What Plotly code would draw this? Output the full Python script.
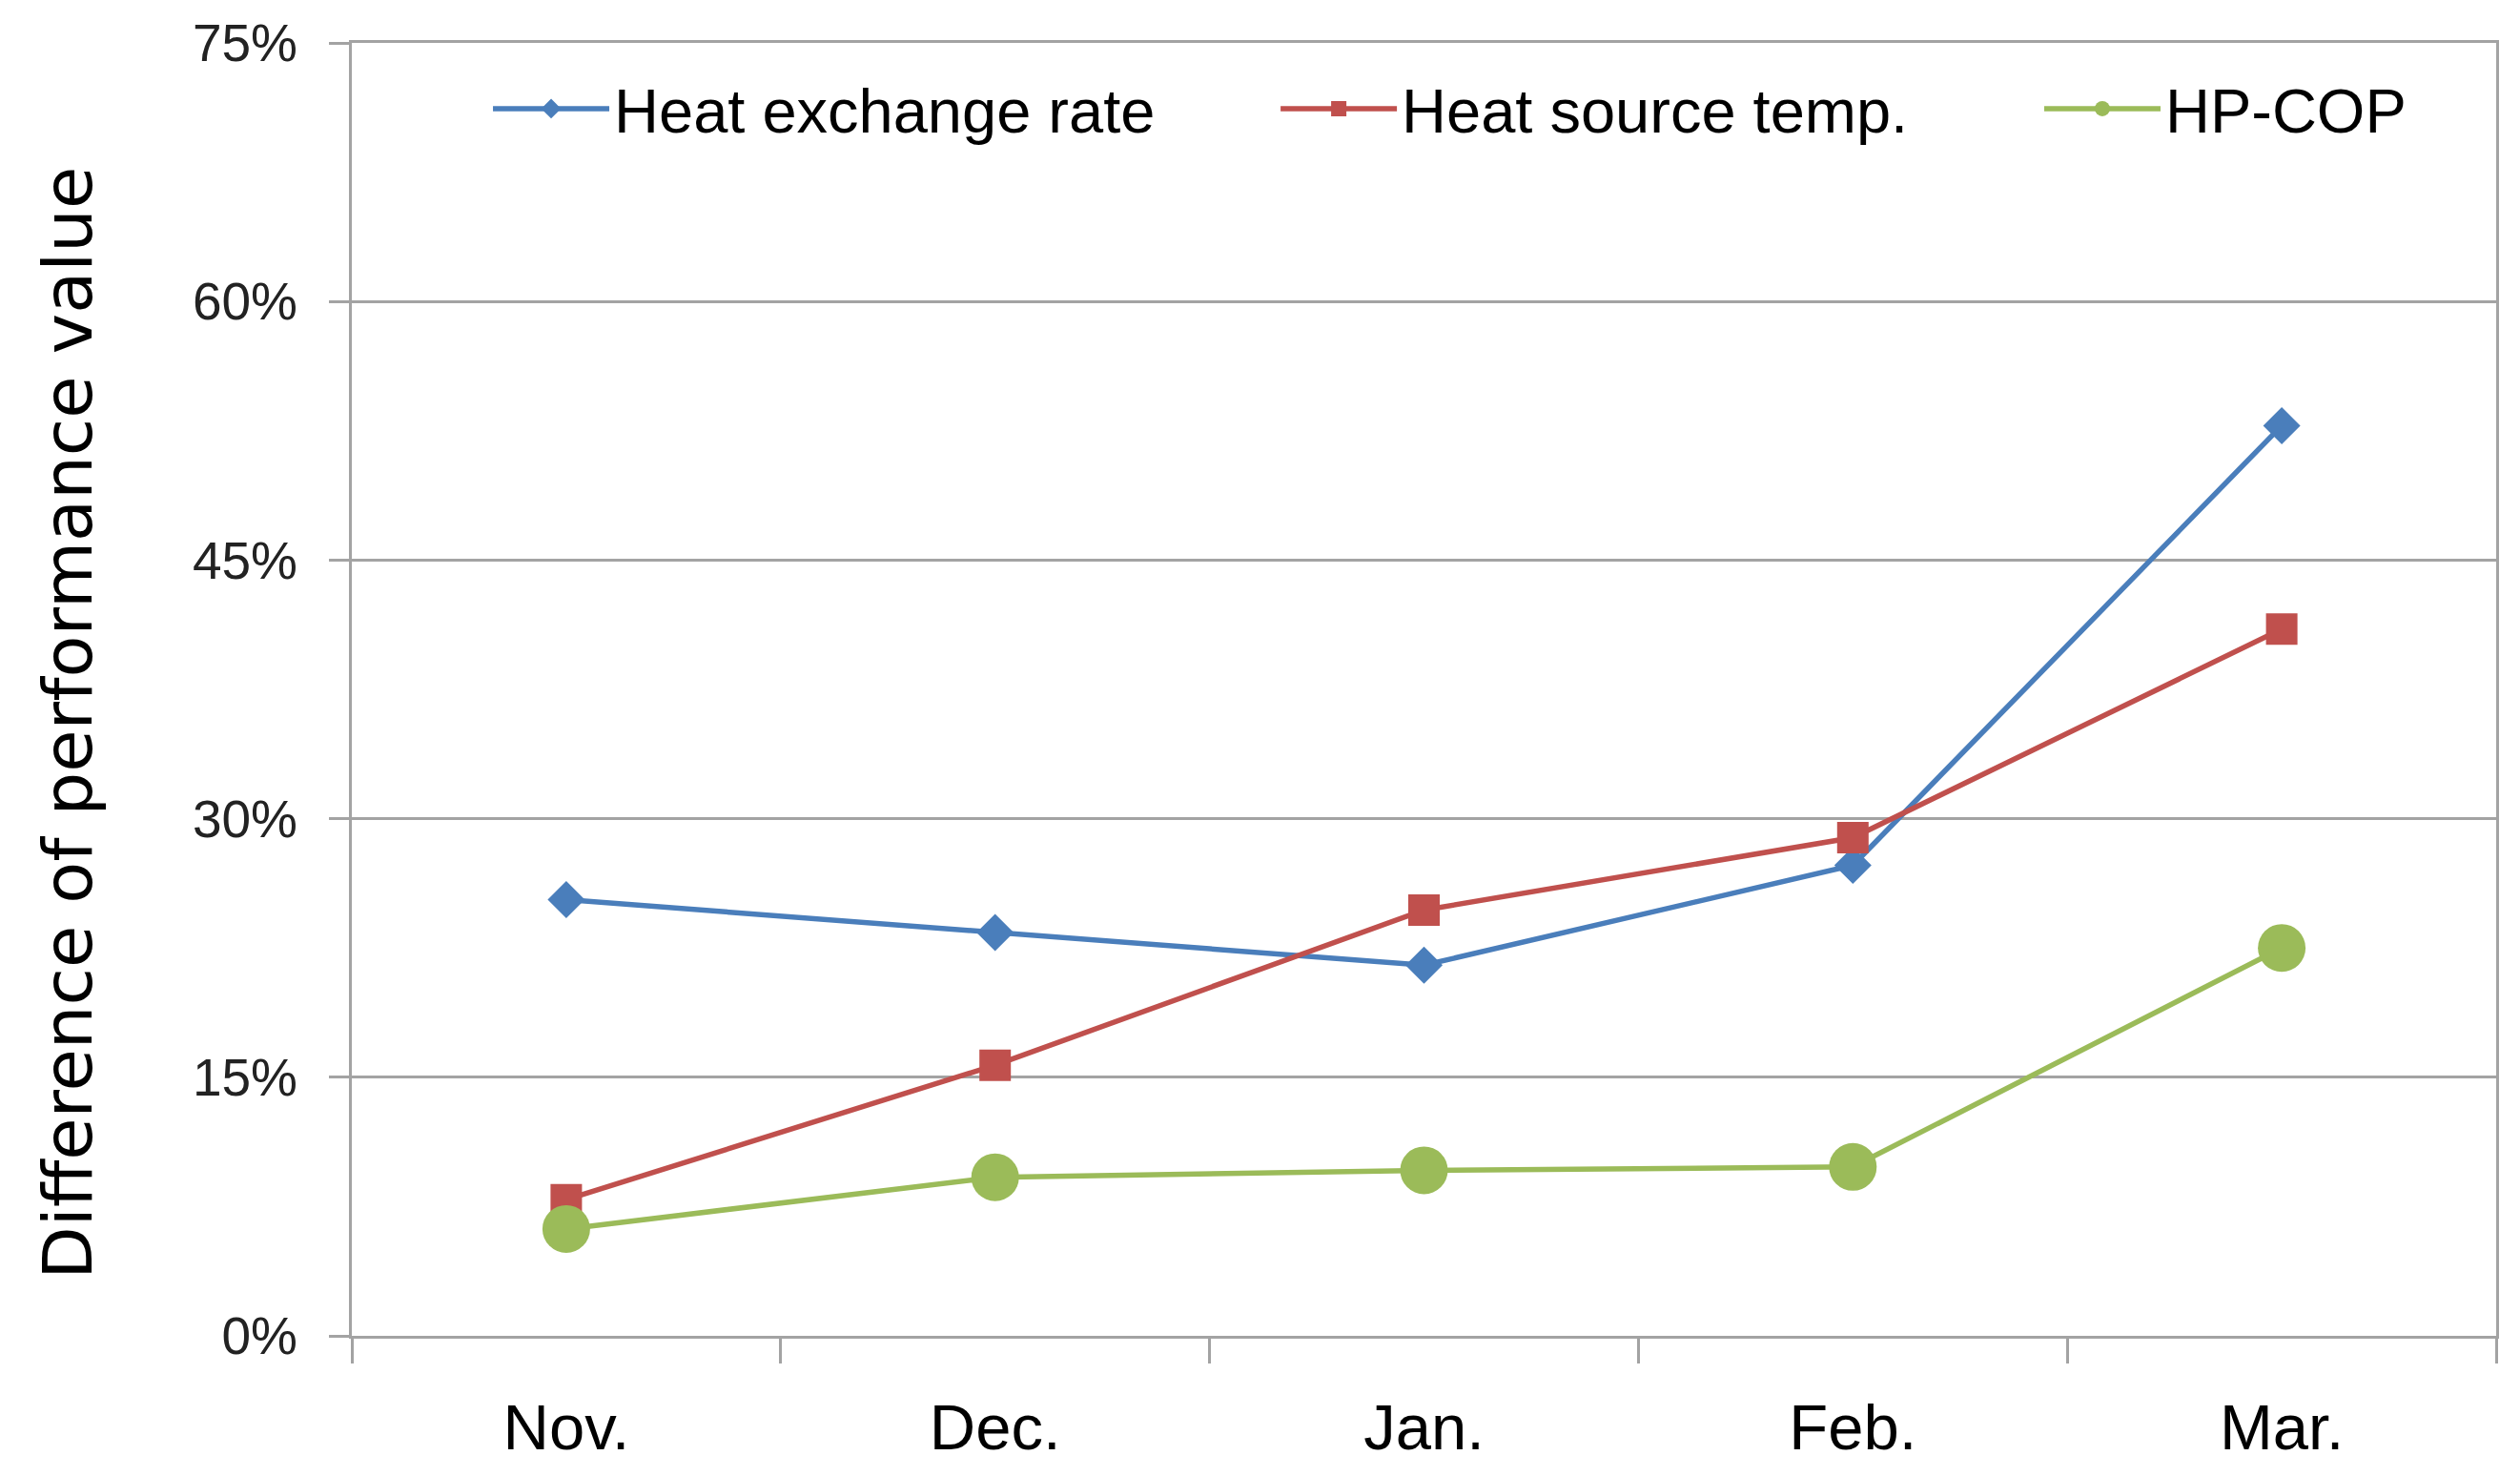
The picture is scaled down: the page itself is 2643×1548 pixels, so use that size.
import plotly.graph_objects as go

months = ["Nov.", "Dec.", "Jan.", "Feb.", "Mar."]
heat_exchange_rate = [25.3, 23.4, 21.5, 27.3, 52.8]
heat_source_temp = [7.9, 15.7, 24.7, 28.9, 41.0]
hp_cop = [6.2, 9.2, 9.6, 9.8, 22.5]
y_ticks = [0, 15, 30, 45, 60, 75]
y_tick_labels = ["0%", "15%", "30%", "45%", "60%", "75%"]
y_title = "Difference of performance value"

FONT = "Liberation Sans, Arial, sans-serif"
GRID = "#a3a3a3"

fig = go.Figure()
series = [
    ("Heat exchange rate", heat_exchange_rate, "#4a7ebb", "diamond", 30, "legend", 0.0636),
    ("Heat source temp.", heat_source_temp, "#c0504d", "square", 33, "legend2", 0.4309),
    ("HP-COP", hp_cop, "#9bbb59", "circle", 50, "legend3", 0.787),
]
legend_layout = {}
for name, vals, color, sym, size, leg, lx in series:
    fig.add_trace(go.Scatter(
        x=months, y=vals, name=name, mode="lines+markers",
        line=dict(color=color, width=5.5),
        marker=dict(symbol=sym, size=size, color=color, line=dict(width=0)),
        legend=leg,
    ))
    legend_layout[leg] = dict(
        orientation="h", x=lx, xanchor="left", y=0.949, yanchor="middle",
        font=dict(family=FONT, size=65, color="#000000"),
        bgcolor="rgba(0,0,0,0)", itemwidth=122,
    )

fig.update_layout(
    width=2627, height=1532,
    margin=dict(l=361, r=17, t=37, b=139, autoexpand=False),
    plot_bgcolor="white", paper_bgcolor="white",
    font=dict(family=FONT, color="#000000"),
    showlegend=True,
    **legend_layout,
)
fig.add_annotation(
    text=y_title, textangle=-90, xref="paper", yref="paper",
    x=0, y=0.4736, xshift=-298, xanchor="center", yanchor="middle",
    showarrow=False, font=dict(family="DejaVu Sans", size=72, color="#000000"),
)
fig.update_xaxes(
    type="category", categoryorder="array", categoryarray=months,
    range=[-0.5, 4.5], tickson="boundaries", ticks="outside", ticklen=26,
    tickwidth=3, tickcolor=GRID, showline=True, linecolor=GRID, linewidth=3,
    mirror=True, showgrid=False, ticklabelstandoff=36,
    tickfont=dict(family=FONT, size=67, color="#000000"),
)
fig.update_yaxes(
    range=[0, 75], tickvals=y_ticks, ticktext=y_tick_labels,
    ticks="outside", ticklen=21, tickwidth=3, tickcolor=GRID,
    showline=True, linecolor=GRID, linewidth=3, mirror=True,
    showgrid=True, gridcolor=GRID, gridwidth=3, zeroline=False,
    ticklabelstandoff=22,
    tickfont=dict(family=FONT, size=55, color="#222222"),
)

fig.write_html("out.html")
